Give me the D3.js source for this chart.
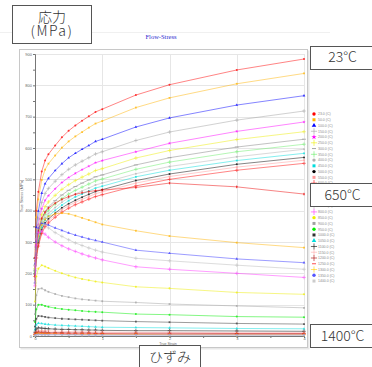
<!DOCTYPE html>
<html>
<head>
<meta charset="utf-8">
<script src="https://cdn.jsdelivr.net/npm/d3@7"></script>
<style>
  body { margin: 0; background: #fff; }
  svg { display: block; font-family: "Liberation Sans", Arial, sans-serif; }
</style>
</head>
<body>
<svg id="chart" width="372" height="367"></svg>
<script>
// strain points where each curve was sampled
const strain = [0, 0.02, 0.05, 0.1, 0.15, 0.2, 0.3, 0.4, 0.5, 0.6, 0.7, 0.8, 0.9, 1.0, 1.5, 2, 3, 4];

// test temperatures (C), one curve each
const temps = [23, 50, 100, 150, 200, 250, 300, 350, 400, 450, 500, 550, 600, 625,
  650, 700, 750, 800, 850, 900, 950, 1000, 1050, 1100, 1150, 1200, 1250, 1300, 1350, 1400];

// true stress (MPa) per temperature, same order as temps
const stress = [
  [250, 400, 460, 525, 560, 580, 608, 634, 655, 672, 687, 701, 715, 724, 769, 802, 849, 884],
  [240, 379, 436, 498, 531, 550, 576, 601, 621, 637, 651, 665, 678, 686, 729, 760, 805, 838],
  [230, 347, 399, 456, 486, 503, 528, 550, 569, 583, 596, 608, 621, 628, 667, 696, 737, 767],
  [225, 325, 374, 426, 455, 471, 494, 515, 532, 546, 558, 569, 581, 588, 624, 651, 689, 718],
  [220, 309, 356, 406, 433, 448, 470, 490, 506, 519, 531, 542, 553, 560, 588, 615, 653, 683],
  [215, 295, 339, 387, 413, 428, 449, 468, 483, 496, 507, 517, 528, 534, 568, 592, 627, 652],
  [210, 284, 327, 373, 398, 412, 432, 450, 465, 477, 488, 498, 508, 514, 546, 569, 603, 628],
  [205, 277, 318, 363, 388, 401, 421, 439, 453, 465, 475, 485, 495, 501, 532, 555, 588, 612],
  [200, 270, 310, 354, 377, 391, 410, 427, 441, 453, 463, 472, 482, 488, 518, 541, 572, 596],
  [200, 264, 304, 347, 370, 383, 401, 418, 432, 444, 453, 463, 472, 478, 508, 529, 560, 583],
  [195, 258, 297, 339, 361, 374, 392, 409, 422, 433, 443, 452, 461, 467, 496, 517, 548, 570],
  [195, 254, 292, 333, 356, 368, 386, 403, 416, 427, 436, 445, 454, 460, 488, 509, 539, 561],
  [190, 249, 287, 327, 349, 361, 379, 395, 408, 419, 428, 437, 445, 451, 479, 500, 529, 551],
  [190, 290, 335, 375, 395, 408, 424, 436, 445, 452, 457, 461, 464, 466, 474, 488, 476, 453],
  [180, 270, 320, 355, 372, 382, 390, 392, 390, 384, 377, 370, 363, 356, 336, 319, 298, 282],
  [170, 300, 345, 360, 358, 354, 345, 337, 329, 322, 316, 310, 305, 300, 274, 264, 246, 234],
  [170, 310, 355, 365, 355, 345, 330, 318, 307, 297, 289, 281, 274, 268, 248, 240, 226, 213],
  [160, 290, 330, 335, 325, 315, 300, 288, 278, 270, 262, 255, 249, 243, 221, 213, 200, 187],
  [110, 190, 215, 226, 222, 217, 208, 200, 193, 187, 182, 178, 174, 171, 157, 152, 139, 133],
  [70, 130, 150, 152, 146, 141, 134, 128, 124, 120, 117, 115, 113, 111, 107, 102, 96, 90],
  [45, 85, 100, 100, 96, 93, 89, 86, 84, 82, 80, 78, 77, 76, 70, 68, 62, 60],
  [30, 55, 64, 63, 61, 59, 57, 55, 54, 53, 52, 51, 50, 49, 46, 44, 40, 38],
  [20, 36, 41, 40, 38, 37, 35, 34, 33, 32, 31, 30, 29, 28, 27, 26, 24, 23],
  [12, 22, 26, 25, 24, 23, 22, 21, 21, 20, 20, 19, 19, 18, 17, 17, 16, 15],
  [8, 15, 18, 17, 16, 16, 15, 15, 14, 14, 14, 13, 13, 13, 12, 12, 11, 11],
  [6, 11, 13, 12, 12, 11, 11, 11, 10, 10, 10, 10, 9, 9, 9, 9, 8, 8],
  [4, 8, 9, 9, 8, 8, 8, 8, 7, 7, 7, 7, 7, 7, 6, 6, 6, 6],
  [3, 6, 7, 6, 6, 6, 6, 5, 5, 5, 5, 5, 5, 5, 5, 4, 4, 4],
  [2, 4, 5, 4, 4, 4, 4, 4, 4, 4, 3, 3, 3, 3, 3, 3, 3, 3],
  [1, 3, 4, 3, 3, 3, 3, 3, 3, 3, 2, 2, 2, 2, 2, 2, 2, 2]
];

const xTicks = [0, 1, 2, 3, 4];
const yTicks = [0, 100, 200, 300, 400, 500, 600, 700, 800, 900];

// series styles
const colors = ['#ff0000', '#ffb400', '#0000ff', '#a0a0a0', '#ff00ff', '#eeee00', '#808080', '#66ee66',
  '#b0b0b0', '#00dddd', '#000000', '#ff9999', '#ff0000', '#ee0000', '#ffb400', '#3333ff', '#b8b8b8',
  '#ff33ff', '#eeee00', '#a0a0a0', '#00ee00', '#333333', '#00dddd', '#000000', '#ffaaaa', '#aa0000',
  '#ff0000', '#ffcc00', '#5555ff', '#cccccc'];
const markers = ['circle', 'square', 'triangle', 'plus', 'star', 'plus', 'dash', 'plus', 'circle', 'square',
  'circle', 'square', 'plus', 'diamond', 'square', 'triangle', 'plus', 'plus', 'circle', 'square',
  'circle', 'square', 'triangle', 'plus', 'plus', 'plus', 'dash', 'plus', 'circle', 'square'];

const svg = d3.select('#chart');
const margin = { left: 35, top: 54, right: 304, bottom: 336 };

const x = d3.scaleLinear().domain([0, 4]).range([margin.left, margin.right]);
const y = d3.scaleLinear().domain([0, 900]).range([margin.bottom, margin.top]);

// faint window line + chart panel
svg.append('line').attr('x1', 0).attr('x2', 330).attr('y1', 32.5).attr('y2', 32.5)
  .attr('stroke', '#f0f0f0');
svg.append('rect').attr('x', 20.5).attr('y', 50.5).attr('width', 289).attr('height', 299)
  .attr('fill', '#e8e8e8');
svg.append('rect').attr('x', 19.5).attr('y', 49.5).attr('width', 288).attr('height', 298)
  .attr('fill', '#fff').attr('stroke', '#c8c8c8');

svg.append('text').attr('x', 161).attr('y', 39).attr('text-anchor', 'middle')
  .style('font-family', '"Liberation Serif", serif').style('font-size', '6.5px')
  .attr('fill', '#2a2ad0').text('Flow-Stress');

// grid
const g = svg.append('g');
g.selectAll('.hgrid').data(yTicks).enter().append('line')
  .attr('x1', margin.left).attr('x2', margin.right)
  .attr('y1', d => Math.round(y(d)) + 0.5).attr('y2', d => Math.round(y(d)) + 0.5)
  .attr('stroke', '#e6e6e6');
g.selectAll('.vgrid').data(xTicks).enter().append('line')
  .attr('y1', margin.top).attr('y2', margin.bottom)
  .attr('x1', d => Math.round(x(d)) + 0.5).attr('x2', d => Math.round(x(d)) + 0.5)
  .attr('stroke', '#e6e6e6');

// axes
const yAxis = g.append('g').attr('transform', `translate(${margin.left},0)`)
  .call(d3.axisLeft(y).tickValues(d3.range(0, 901, 50)).tickSize(2)
    .tickFormat(d => d % 100 === 0 ? d : ''));
const xAxis = g.append('g').attr('transform', `translate(0,${margin.bottom})`)
  .call(d3.axisBottom(x).tickValues(d3.range(0, 4.01, 0.5)).tickSize(2)
    .tickFormat(d => Number.isInteger(d) ? d : ''));
[yAxis, xAxis].forEach(a => {
  a.select('.domain').attr('stroke', '#777');
  a.selectAll('.tick line').attr('stroke', '#777');
  a.selectAll('.tick text').style('font-size', '4px').attr('fill', '#666');
});
yAxis.selectAll('.tick text').attr('x', -3);
xAxis.selectAll('.tick text').attr('y', 1.5);

svg.append('text').attr('transform', 'translate(23,196) rotate(-90)').attr('text-anchor', 'middle')
  .style('font-size', '4px').attr('fill', '#666').text('True Stress (MPa)');
svg.append('text').attr('x', 168).attr('y', 344.5).attr('text-anchor', 'middle')
  .style('font-size', '3.6px').attr('fill', '#666').text('True Strain');

// curves
const line = d3.line().x(d => x(d[0])).y(d => y(d[1]));
const symbolTypes = {
  circle: d3.symbolCircle, square: d3.symbolSquare, triangle: d3.symbolTriangle,
  star: d3.symbolStar, diamond: d3.symbolDiamond, plus: d3.symbolPlus
};

function drawMarker(sel, type, color, size) {
  if (type === 'dash') {
    sel.append('path').attr('d', 'M-2,0H2').attr('stroke', color).attr('stroke-width', 0.7);
  } else if (type === 'plus') {
    sel.append('path').attr('d', d3.symbol(symbolTypes.plus, size * 1.6)())
      .attr('fill', 'none').attr('stroke', color).attr('stroke-width', 0.6);
  } else {
    sel.append('path').attr('d', d3.symbol(symbolTypes[type], size)()).attr('fill', color);
  }
}

const curves = g.append('g');
stress.forEach((vals, i) => {
  const pts = strain.map((s, j) => [s, vals[j]]);
  const cg = curves.append('g').attr('opacity', 0.8);
  cg.append('path').datum(pts).attr('d', line)
    .attr('fill', 'none').attr('stroke', colors[i]).attr('stroke-width', 0.6);
  pts.forEach(p => {
    const m = cg.append('g').attr('transform', `translate(${x(p[0])},${y(p[1])})`);
    drawMarker(m, markers[i], colors[i], 3.2);
  });
});

// legend
const legend = svg.append('g');
temps.forEach((t, i) => {
  const ly = 114 + i * 5.76;
  const m = legend.append('g').attr('transform', `translate(314,${ly})`);
  drawMarker(m, markers[i], colors[i], 9);
  legend.append('text').attr('x', 318).attr('y', ly + 1.3)
    .style('font-size', '3.5px').attr('fill', '#888').text(`${t.toFixed(1)} (C)`);
});

// annotation boxes
function noteBox(x0, y0, w, h, lines, size) {
  svg.append('rect').attr('x', x0 + 0.5).attr('y', y0 + 0.5).attr('width', w).attr('height', h)
    .attr('fill', '#fff').attr('stroke', '#555');
  lines.forEach(l => {
    svg.append('text').attr('x', x0 + w / 2 + 0.5).attr('y', l.y).attr('text-anchor', 'middle')
      .style('font-family', '"Noto Sans CJK JP", "Noto Sans", sans-serif')
      .style('font-size', size + 'px').style('letter-spacing', (l.ls || 0) + 'px')
      .style('font-weight', 300)
      .attr('fill', '#333').text(l.t);
  });
}
noteBox(12, 5, 79, 38, [{ t: '応力', y: 22 }, { t: '(MPa)', y: 36, ls: 1.5 }], 14);
noteBox(310, 46, 64, 23, [{ t: '23°C', y: 62 }], 14);
noteBox(310, 183, 64, 23, [{ t: '650°C', y: 199.5 }], 14);
noteBox(310, 324, 64, 23, [{ t: '1400°C', y: 340.5 }], 14);
noteBox(139, 345, 61, 24, [{ t: 'ひずみ', y: 361.5 }], 14);
</script>
</body>
</html>
